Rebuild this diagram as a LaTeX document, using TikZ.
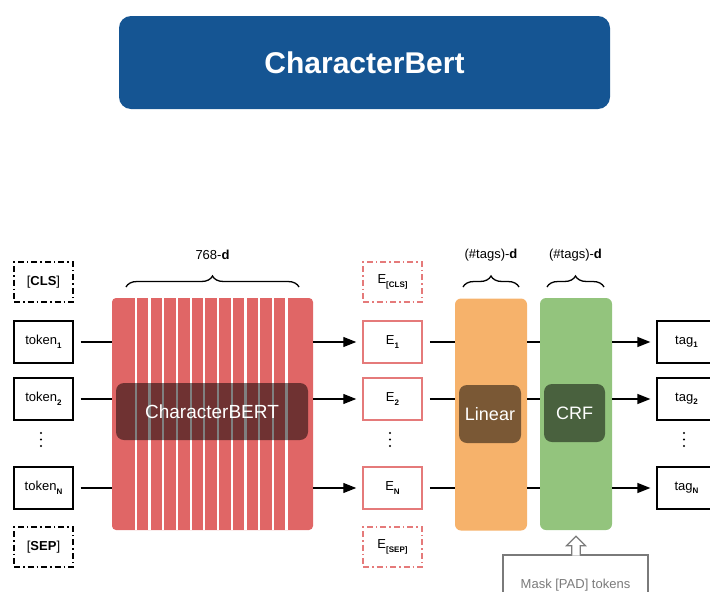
\documentclass[tikz,border=0pt]{standalone}
\usepackage{fontspec}
\setmainfont{Liberation Sans}
\usetikzlibrary{arrows.meta,decorations.pathreplacing,calc}
\definecolor{titleblue}{HTML}{155593}
\definecolor{bred}{HTML}{E06666}
\definecolor{eborder}{HTML}{E57A7A}
\definecolor{borange}{HTML}{F6B26B}
\definecolor{bgreen}{HTML}{93C47D}
\definecolor{maskgray}{HTML}{7A7A7A}
\newcommand\lowsub[1]{\raisebox{-3.5pt}{\fontsize{8}{9}\selectfont\bfseries #1}}
\begin{document}
\begin{tikzpicture}[x=1pt,y=-1pt,
  txt/.style={font=\fontsize{13}{15}\selectfont},
  tok/.style={txt,draw=black,line width=1.3pt,minimum width=59pt,minimum height=42pt,inner sep=0pt},
  tokdash/.style={tok,dash pattern=on 6pt off 3pt on 1.5pt off 3pt,minimum height=40pt},
  emb/.style={tok,draw=eborder,line width=1.5pt},
  embdash/.style={tokdash,draw=eborder,line width=1.5pt},
  layer/.style={minimum width=72pt,minimum height=232pt,inner sep=0pt,rounded corners=6pt},
  overlay/.style={fill=black,fill opacity=0.5,text opacity=1,text=white,rounded corners=8pt,inner sep=0pt},
  conn/.style={line width=1.3pt,draw=black},
  arr/.style={conn,-{Triangle[length=13pt,width=10pt]}},
  brc/.style={decorate,decoration={brace,amplitude=11pt,aspect=0.5},line width=1.3pt},
  vdot/.style={fill=black,radius=1pt}
]
\useasboundingbox (0,0) rectangle (710,592);

% title
\node[fill=titleblue,rounded corners=12pt,minimum width=491pt,minimum height=93pt,inner sep=0pt,
  text=white,font=\fontsize{30}{34}\selectfont\bfseries] (title) at (364.5,62.5) {CharacterBert};

% input tokens
\node[tokdash] (cls) at (43.5,282) {[\textbf{CLS}]};
\node[tok] (t1) at (43.5,342) {token\lowsub{1}};
\node[tok] (t2) at (43.5,399) {token\lowsub{2}};
\node[tok] (tn) at (43.5,488) {token\lowsub{N}};
\node[tokdash] (sep) at (43.5,547) {[\textbf{SEP}]};

% CharacterBERT block
\node[fill=bred,minimum width=201pt,minimum height=232pt,inner sep=0pt,rounded corners=4pt] (cb) at (212.5,414) {};
\foreach \i in {0,...,11}{
  \draw[white,line width=2.2pt] ($(cb.north west)+(24+\i*13.7,0)$) -- ($(cb.south west)+(24+\i*13.7,0)$);
}
\node[overlay,minimum width=192pt,minimum height=57pt,font=\fontsize{19}{22}\selectfont] (cbo) at (212,411.5) {CharacterBERT};

\draw[brc] (126,287) -- (299,287) node[midway,above=23pt,txt] (l768) {768-\textbf{d}};

% embeddings
\node[embdash] (ecls) at (392.5,282) {E\lowsub{[CLS]}};
\node[emb] (e1) at (392.5,342) {E\lowsub{1}};
\node[emb] (e2) at (392.5,399) {E\lowsub{2}};
\node[emb] (en) at (392.5,488) {E\lowsub{N}};
\node[embdash] (esep) at (392.5,547) {E\lowsub{[SEP]}};

% Linear and CRF
\node[layer,fill=borange] (lin) at (491,414.5) {};
\node[overlay,minimum width=62pt,minimum height=58pt,font=\fontsize{18}{21}\selectfont] (lino) at (490,414) {Linear};
\node[layer,fill=bgreen] (crf) at (576,414) {};
\node[overlay,minimum width=61pt,minimum height=58pt,font=\fontsize{18}{21}\selectfont] (crfo) at (574.5,413) {CRF};

\draw[brc] (463,287) -- (519,287) node[midway,above=22pt,txt] (llin) {(\#tags)-\textbf{d}};
\draw[brc] (547,287) -- (604,287) node[midway,above=22pt,txt] (lcrf) {(\#tags)-\textbf{d}};

% tags
\node[tok] (g1) at (686.5,342) {tag\lowsub{1}};
\node[tok] (g2) at (686.5,399) {tag\lowsub{2}};
\node[tok] (gn) at (686.5,488) {tag\lowsub{N}};

% vertical ellipses
\foreach \x in {41,390,684}{
  \foreach \y in {433,439.5,446}{
    \fill[vdot] (\x,\y) circle[radius=1.1pt];
  }
}

% connectors
\foreach \t/\e/\g in {t1/e1/g1,t2/e2/g2,tn/en/gn}{
  \draw[conn,shorten <=7pt] (\t) -- (cb.west |- \t);
  \draw[arr,shorten >=6pt] (cb.east |- \t) -- (\e);
  \draw[conn,shorten <=7pt] (\e) -- (lin.west |- \e);
  \draw[conn] (lin.east |- \e) -- (crf.west |- \e);
  \draw[arr,shorten >=6pt] (crf.east |- \e) -- (\g);
}

% mask box and hollow arrow
\node[draw=maskgray,line width=1.2pt,minimum width=145pt,minimum height=62pt,inner sep=0pt,
  text=maskgray,font=\fontsize{13}{15}\selectfont,text depth=5pt] (mask) at (575.5,586) {Mask [PAD] tokens};
\coordinate (mtip) at ($(crf.south)+(0,6)$);
\fill[white] (mtip) -- ++(9.5,9.5) -- ++(-5.3,0) -- ++(0,9.8) -- ++(-8.4,0) -- ++(0,-9.8) -- ++(-5.3,0) -- cycle;
\draw[maskgray,line width=1.2pt,line join=miter] ($(mtip)+(4.2,19.3)$) -- ++(0,-9.8) -- ++(5.3,0) -- (mtip) -- ++(-9.5,9.5) -- ++(5.3,0) -- ++(0,9.8);
\end{tikzpicture}
\end{document}
